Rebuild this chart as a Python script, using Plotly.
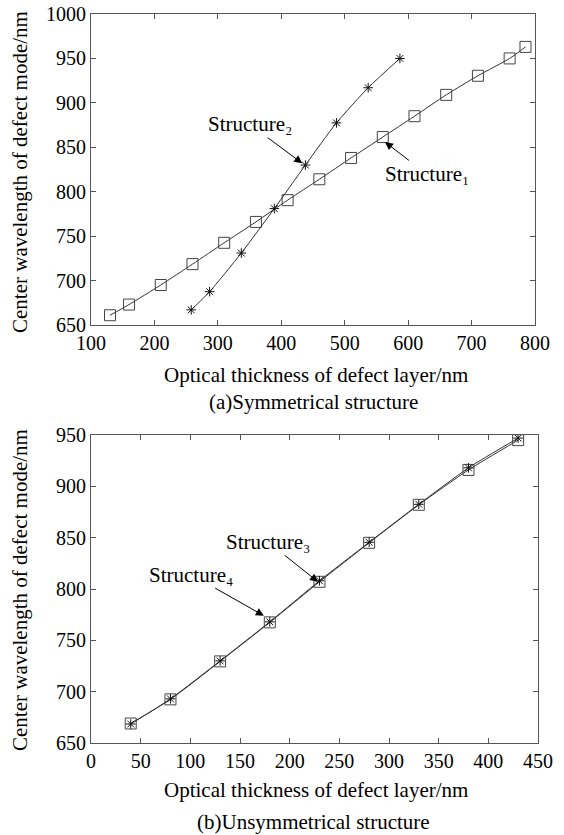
import plotly.graph_objects as go

# ---- data (a) symmetrical structure ----
s1_x = [130, 160, 210, 260, 310, 360, 410, 460, 510, 560, 610, 660, 710, 760, 785]
s1_y = [661, 673, 695, 718.5, 742.5, 766, 790.5, 814, 838, 861.5, 885, 909, 930.5, 950, 963]
s2_x = [258, 287, 337, 389, 438, 487, 537, 587]
s2_y = [667, 687.5, 731, 781, 830, 877.5, 917, 950]

# ---- data (b) unsymmetrical structure ----
b_x = [40, 80, 130, 180, 230, 280, 330, 380, 430]
s3_y = [669, 692.5, 729.5, 767.5, 807, 845, 882, 916, 945]
s4_y = [668.5, 693, 730, 768, 808, 845.5, 882.5, 918, 947]

top_xticks = [100, 200, 300, 400, 500, 600, 700, 800]
top_yticks = [650, 700, 750, 800, 850, 900, 950, 1000]
bot_xticks = [0, 50, 100, 150, 200, 250, 300, 350, 400, 450]
bot_yticks = [650, 700, 750, 800, 850, 900, 950]

FONT = "Times New Roman, Liberation Serif, serif"
W, H = 564, 835

fig = go.Figure()
line_style = dict(color="#333333", width=1, shape="spline", smoothing=0.6)
sq = dict(symbol="square-open", size=11, color="#444444", line=dict(width=1, color="#444444"))
st = dict(symbol="asterisk-open", size=8, color="#111111", line=dict(width=1, color="#111111"))

fig.add_trace(go.Scatter(x=s1_x, y=s1_y, mode="lines+markers", line=line_style, marker=sq,
                         xaxis="x", yaxis="y", showlegend=False, name="Structure1"))
fig.add_trace(go.Scatter(x=s2_x, y=s2_y, mode="lines+markers", line=line_style, marker=st,
                         xaxis="x", yaxis="y", showlegend=False, name="Structure2"))
fig.add_trace(go.Scatter(x=b_x, y=s3_y, mode="lines+markers", line=line_style, marker=sq,
                         xaxis="x2", yaxis="y2", showlegend=False, name="Structure3"))
fig.add_trace(go.Scatter(x=b_x, y=s4_y, mode="lines+markers", line=line_style, marker=st,
                         xaxis="x2", yaxis="y2", showlegend=False, name="Structure4"))

axis_common = dict(showline=True, linecolor="#555555", linewidth=1, mirror="ticks",
                   ticks="inside", ticklen=5, tickcolor="#555555", showgrid=False, zeroline=False,
                   automargin=False,
                   tickfont=dict(family=FONT, size=20, color="black"))

fig.update_layout(
    width=W, height=H, margin=dict(l=0, r=0, t=0, b=0, pad=0, autoexpand=False),
    paper_bgcolor="white", plot_bgcolor="white",
    font=dict(family=FONT, color="black"),
    xaxis=dict(domain=[91 / W, 535 / W], anchor="y", range=[100, 800], tickvals=top_xticks, **axis_common),
    yaxis=dict(domain=[1 - 325 / H, 1 - 14 / H], anchor="x", range=[650, 1000], tickvals=top_yticks, **axis_common),
    xaxis2=dict(domain=[91 / W, 538 / W], anchor="y2", range=[0, 450], tickvals=bot_xticks, **axis_common),
    yaxis2=dict(domain=[1 - 743 / H, 1 - 435 / H], anchor="x2", range=[650, 950], tickvals=bot_yticks, **axis_common),
)

ann = []
def label_arrow(tx, ty, t, x, y, xr, yr, size=21):
    ann.append(dict(x=x, y=y, ax=tx, ay=ty, xref=xr, yref=yr, axref=xr, ayref=yr, text=t,
                    showarrow=True, arrowhead=2, arrowsize=1.6, arrowwidth=1, arrowcolor="black",
                    standoff=0, font=dict(family=FONT, size=size, color="black")))

# top annotations
label_arrow(350, 876, "Structure₂", 433, 832, "x", "y")
label_arrow(629, 820, "Structure₁", 563.5, 856, "x", "y")
# bottom annotations
label_arrow(178, 846, "Structure₃", 228.5, 807, "x2", "y2")
label_arrow(101, 814, "Structure₄", 174, 774, "x2", "y2")

def ptext(px, py, t, size=21, angle=0):
    ann.append(dict(x=px / W, y=1 - py / H, xref="paper", yref="paper", text=t, showarrow=False,
                    textangle=angle, font=dict(family=FONT, size=size, color="black"),
                    xanchor="center", yanchor="middle"))

ptext(316, 375, "Optical thickness of defect layer/nm")
ptext(313, 402, "(a)Symmetrical structure")
ptext(20, 172, "Center wavelength of defect mode/nm", angle=-90)
ptext(316, 790, "Optical thickness of defect layer/nm")
ptext(313, 822, "(b)Unsymmetrical structure")
ptext(20, 590, "Center wavelength of defect mode/nm", angle=-90)

fig.update_layout(annotations=ann)
fig.write_html("out.html", config={"displayModeBar": False},
               post_script="document.body.style.margin='0';")
